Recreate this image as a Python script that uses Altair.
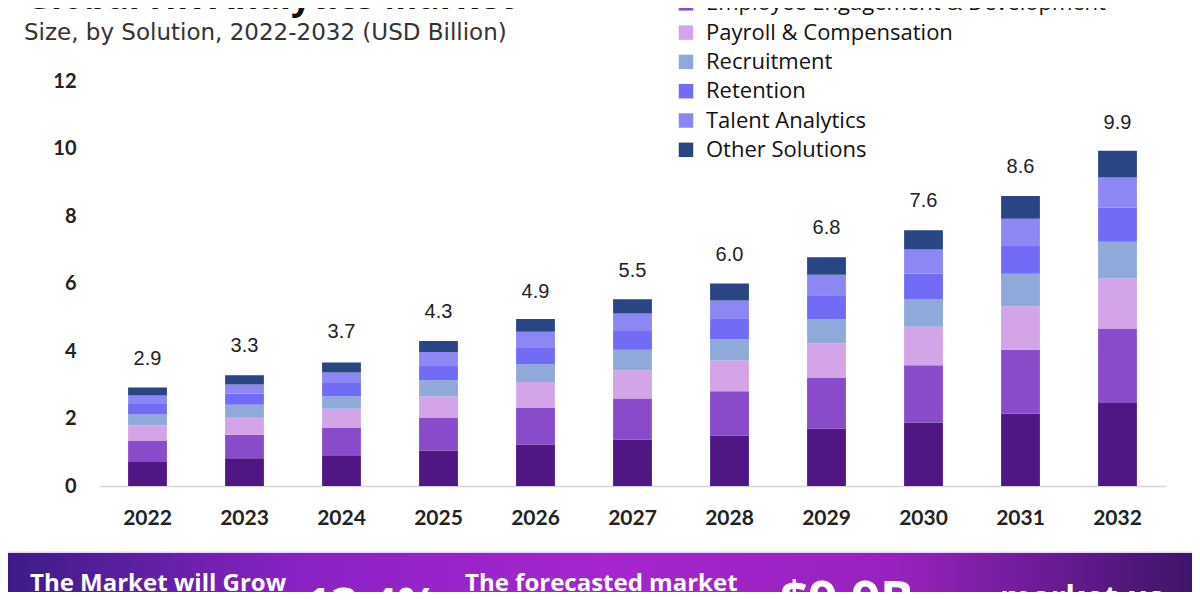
import altair as alt
import pandas as pd

years = ["2022", "2023", "2024", "2025", "2026", "2027", "2028", "2029", "2030", "2031", "2032"]
solutions = [
    "Workforce Management",
    "Employee Engagement & Development",
    "Payroll & Compensation",
    "Recruitment",
    "Retention",
    "Talent Analytics",
    "Other Solutions",
]
colors = ["#4F1684", "#8A4BCB", "#D3A4E8", "#8FA9DA", "#716BF5", "#8D87F4", "#2A4583"]

workforce = [0.71, 0.82, 0.91, 1.05, 1.23, 1.38, 1.50, 1.70, 1.88, 2.14, 2.46]
engagement = [0.64, 0.70, 0.82, 0.98, 1.08, 1.21, 1.31, 1.50, 1.70, 1.90, 2.21]
payroll = [0.45, 0.50, 0.56, 0.63, 0.77, 0.84, 0.91, 1.02, 1.14, 1.28, 1.48]
recruitment = [0.32, 0.39, 0.37, 0.47, 0.53, 0.61, 0.63, 0.72, 0.82, 0.97, 1.09]
retention = [0.31, 0.32, 0.39, 0.45, 0.50, 0.55, 0.62, 0.71, 0.76, 0.84, 1.01]
talent = [0.25, 0.28, 0.31, 0.39, 0.46, 0.52, 0.53, 0.61, 0.71, 0.79, 0.89]
other = [0.24, 0.27, 0.30, 0.33, 0.38, 0.42, 0.50, 0.52, 0.57, 0.67, 0.79]
totals = [2.9, 3.3, 3.7, 4.3, 4.9, 5.5, 6.0, 6.8, 7.6, 8.6, 9.9]

series = [workforce, engagement, payroll, recruitment, retention, talent, other]
rows = []
for i, (name, vals) in enumerate(zip(solutions, series)):
    for yr, v in zip(years, vals):
        rows.append({"year": yr, "solution": name, "value": v, "order": i})
df = pd.DataFrame(rows)
tot_df = pd.DataFrame({"year": years, "total": totals})
one = pd.DataFrame({"a": [0]})

x_enc = alt.X(
    "year:N",
    title=None,
    sort=years,
    scale=alt.Scale(paddingInner=0.6, paddingOuter=0.3),
    axis=alt.Axis(
        labelAngle=0, ticks=False, domain=True, domainColor="#d6d6d6", domainWidth=1.5,
        labelFont="Lato", labelFontWeight="bold", labelFontSize=21, labelColor="#222222",
        labelPadding=21,
    ),
)
y_scale = alt.Scale(domain=[0, 12], nice=False)
y_axis = alt.Axis(
    values=[0, 2, 4, 6, 8, 10, 12], ticks=False, domain=False, grid=False,
    labelFont="Lato", labelFontWeight="bold", labelFontSize=20, labelColor="#222222",
    labelPadding=23,
)

banner = alt.Chart(one).mark_rect(
    color=alt.Gradient(
        gradient="linear",
        stops=[
            alt.GradientStop(color="#3A1C86", offset=0),
            alt.GradientStop(color="#8A22C6", offset=0.25),
            alt.GradientStop(color="#A526CF", offset=0.5),
            alt.GradientStop(color="#9722BF", offset=0.75),
            alt.GradientStop(color="#3C1468", offset=1),
        ],
        x1=0, x2=1, y1=0, y2=0,
    )
).encode(x=alt.value(-99), x2=alt.value(1101), y=alt.value(472), y2=alt.value(520))

edge_line = alt.Chart(one).mark_rect(color="#E9D6F2").encode(
    x=alt.value(-99), x2=alt.value(1101), y=alt.value(470.5), y2=alt.value(472)
)
left_border = alt.Chart(one).mark_rect(color="#7A2E9E").encode(
    x=alt.value(-99), x2=alt.value(-95), y=alt.value(-81), y2=alt.value(472)
)
right_border = alt.Chart(one).mark_rect(color="#6B3A7E").encode(
    x=alt.value(1095), x2=alt.value(1098), y=alt.value(-81), y2=alt.value(472)
)

bars = alt.Chart(df).mark_bar().encode(
    x=x_enc,
    y=alt.Y("value:Q", stack="zero", title=None, scale=y_scale, axis=y_axis),
    color=alt.Color(
        "solution:N",
        scale=alt.Scale(domain=solutions, range=colors),
        legend=alt.Legend(
            orient="none", legendX=576, legendY=-118, title=None,
            symbolType="square", symbolSize=210, symbolStrokeWidth=0, symbolOpacity=1,
            labelFont="Open Sans", labelFontSize=22, labelColor="#111111",
            labelLimit=700, rowPadding=7.3, padding=0, labelOffset=9,
        ),
    ),
    order=alt.Order("order:Q", sort="ascending"),
)

labels = alt.Chart(tot_df).mark_text(
    dy=-29, baseline="middle", font="Liberation Sans", fontSize=20, color="#222222"
).encode(
    x=alt.X("year:N", sort=years),
    y=alt.Y("total:Q"),
    text=alt.Text("total:Q", format=".1f"),
)

def note(txt, px, py, size, weight="normal", color="#111111", font="Open Sans"):
    return alt.Chart(one).mark_text(
        align="left", baseline="alphabetic", font=font, fontSize=size,
        fontWeight=weight, color=color,
    ).encode(x=alt.value(px), y=alt.value(py), text=alt.value(txt))

title = note("Global HR Analytics Market", -74, -72, 36, "bold", "#111111")
subtitle = note("Size, by Solution, 2022-2032 (USD Billion)", -75, -41, 23, "normal", "#333333", "DejaVu Sans")
b1 = note("The Market will Grow", -69, 510, 24, "bold", "#ffffff")
b2 = note("13.4%", 206, 540, 46, "bold", "#ffffff")
b3 = note("The forecasted market", 366, 510, 24, "bold", "#ffffff")
b4 = note("$9.9B", 681, 536, 50, "bold", "#ffffff")
b5 = note("market.us", 901, 528, 32, "bold", "#ffffff")

chart = alt.layer(
    banner, edge_line, left_border, right_border, bars, labels, title, subtitle, b1, b2, b3, b4, b5
).properties(
    width=1067,
    height=405,
    padding={"left": 91, "top": 73, "right": 26, "bottom": 106},
    autosize=alt.AutoSizeParams(type="none"),
    background="white",
).configure_view(stroke=None)

chart.save("out.html", embed_options={"renderer": "svg", "actions": False})
